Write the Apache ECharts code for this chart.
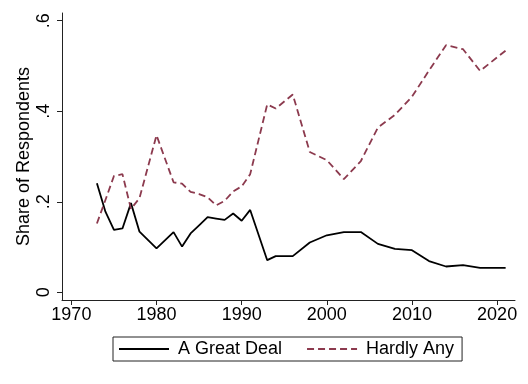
<!DOCTYPE html>
<html>
<head>
<meta charset="utf-8">
<script src="https://cdn.jsdelivr.net/npm/echarts@6/dist/echarts.min.js"></script>
<style>
html,body{margin:0;padding:0;background:#fff;}
#chart{width:528px;height:384px;}
</style>
</head>
<body>
<div id="chart"></div>
<script>
const years = [1973,1974,1975,1976,1977,1978,1980,1982,1983,1984,1985,1986,1987,1988,1989,1990,1991,1993,1994,1996,1998,2000,2002,2004,2006,2008,2010,2012,2014,2016,2018,2021];
const greatDeal = [0.241,0.178,0.138,0.141,0.197,0.134,0.097,0.133,0.101,0.130,0.148,0.166,0.163,0.160,0.174,0.158,0.182,0.071,0.080,0.080,0.110,0.126,0.133,0.133,0.107,0.096,0.093,0.069,0.057,0.060,0.054,0.054];
const hardlyAny = [0.152,0.204,0.257,0.261,0.184,0.208,0.347,0.243,0.240,0.222,0.217,0.210,0.192,0.202,0.223,0.234,0.261,0.415,0.406,0.437,0.310,0.292,0.250,0.290,0.364,0.392,0.432,0.490,0.546,0.537,0.489,0.534];
const xTicks = [1970,1980,1990,2000,2010,2020];
const yTicks = [0,0.2,0.4,0.6];
const yTickLabels = ['0','.2','.4','.6'];
const seriesNames = ['A Great Deal','Hardly Any'];

const font = 'Liberation Sans, Arial, sans-serif';
const chart = echarts.init(document.getElementById('chart'), null, {renderer:'canvas'});
chart.setOption({
  backgroundColor:'#fff',
  animation:false,
  grid:{left:62,right:13,top:13,bottom:84,containLabel:false},
  legend:{
    left:113, top:337,
    data:seriesNames,
    itemWidth:50, itemHeight:14, itemGap:24,
    padding:[3,8,3,5],
    borderColor:'#222', borderWidth:1,
    itemStyle:{color:'transparent',borderWidth:0,opacity:0},
    textStyle:{fontFamily:font,fontSize:18,color:'#000',padding:[0,0,0,4]}
  },
  xAxis:{
    type:'value', min:1968.9, max:2022.1,
    axisLine:{show:true,onZero:false,lineStyle:{color:'#222',width:1}},
    axisTick:{show:true,length:5,customValues:xTicks,lineStyle:{color:'#222'}},
    axisLabel:{customValues:xTicks,fontFamily:font,fontSize:18,color:'#000',margin:6,
      formatter:v=>String(v)},
    splitLine:{show:false}
  },
  yAxis:{
    type:'value', min:-0.017, max:0.617,
    name:'Share of Respondents', nameLocation:'middle', nameGap:29, nameRotate:90,
    nameMoveOverlap:false,
    nameTextStyle:{fontFamily:font,fontSize:18,color:'#000'},
    axisLine:{show:true,onZero:false,lineStyle:{color:'#222',width:1}},
    axisTick:{show:true,length:5,customValues:yTicks,lineStyle:{color:'#222'}},
    axisLabel:{customValues:yTicks,rotate:90,fontFamily:font,fontSize:18,color:'#000',margin:9,
      formatter:v=>{const i=yTicks.findIndex(t=>Math.abs(t-v)<1e-9);return i>=0?yTickLabels[i]:'';}},
    splitLine:{show:false}
  },
  series:[
    {name:seriesNames[0],type:'line',symbol:'none',
     data:years.map((y,i)=>[y,greatDeal[i]]),
     lineStyle:{color:'#000',width:1.8},itemStyle:{color:'#000'}},
    {name:seriesNames[1],type:'line',symbol:'none',
     data:years.map((y,i)=>[y,hardlyAny[i]]),
     lineStyle:{color:'#8c3a4e',width:1.8,type:[7,4]},itemStyle:{color:'#8c3a4e'}}
  ]
});
</script>
</body>
</html>
